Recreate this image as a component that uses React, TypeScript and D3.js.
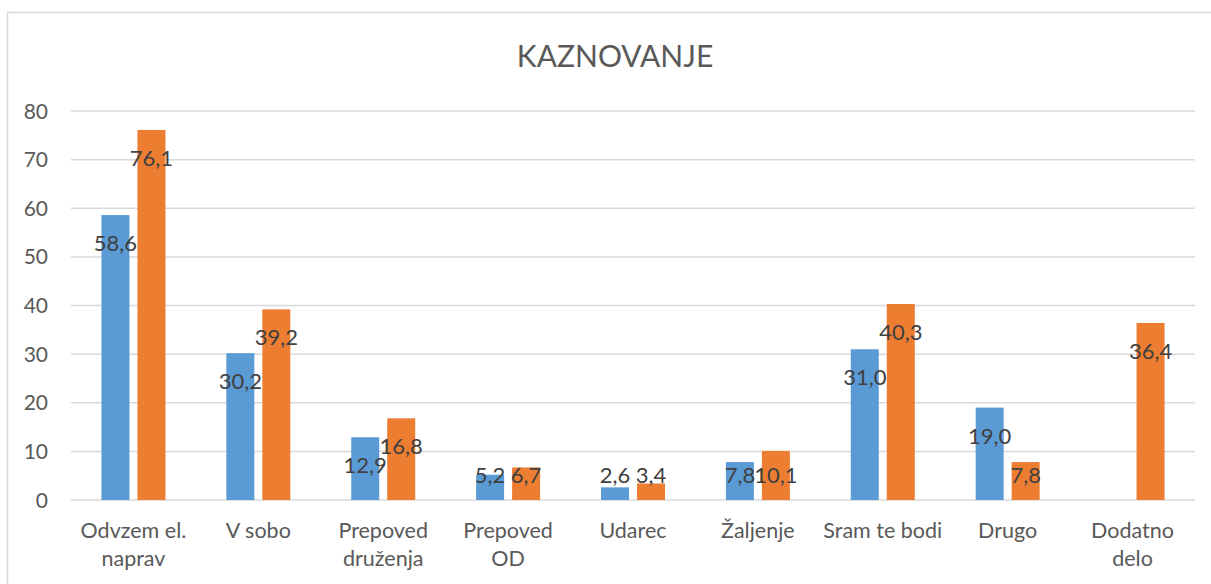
import React from "react";
import * as d3 from "d3";

const title = "KAZNOVANJE";
const categories = [
  "Odvzem el. naprav",
  "V sobo",
  "Prepoved druženja",
  "Prepoved OD",
  "Udarec",
  "Žaljenje",
  "Sram te bodi",
  "Drugo",
  "Dodatno delo",
];
const categoryLines = [
  ["Odvzem el.", "naprav"],
  ["V sobo"],
  ["Prepoved", "druženja"],
  ["Prepoved", "OD"],
  ["Udarec"],
  ["Žaljenje"],
  ["Sram te bodi"],
  ["Drugo"],
  ["Dodatno", "delo"],
];
const seriesBlue: (number | null)[] = [58.6, 30.2, 12.9, 5.2, 2.6, 7.8, 31.0, 19.0, null];
const seriesOrange: (number | null)[] = [76.1, 39.2, 16.8, 6.7, 3.4, 10.1, 40.3, 7.8, 36.4];
const yTicks = [0, 10, 20, 30, 40, 50, 60, 70, 80];

const seriesNames = ["a", "b"];
const colors = ["#5B9BD5", "#ED7D31"];

const App: React.FC = () => {
  const width = 1211;
  const height = 584;
  const marginLeft = 71;
  const marginRight = 16;
  const top = 111;
  const bottom = 500;
  const font = "Lato, 'Open Sans', sans-serif";

  const x0 = d3
    .scaleBand()
    .domain(categories)
    .range([marginLeft, width - marginRight])
    .paddingInner(0)
    .paddingOuter(0);

  // two bars centred in each band
  const groupW = 64;
  const x1 = d3.scaleBand().domain(seriesNames).range([0, groupW]).paddingInner(0.222);

  const y = d3.scaleLinear().domain([0, 80]).range([bottom, top]);

  const fmt = (v: number) => v.toFixed(1).replace(".", ",");
  const allSeries = [seriesBlue, seriesOrange];

  return (
    <svg
      width={width}
      height={height}
      style={{ position: "absolute", left: 0, top: 0, background: "#fff" }}
    >
      <rect x={7.5} y={12.5} width={width} height={height} fill="#fff" stroke="#D9D9D9" strokeWidth={1.5} />
      <text
        x={615}
        y={67}
        textAnchor="middle"
        fontFamily={font}
        fontSize={30}
        fill="#595959"
      >
        {title}
      </text>

      {yTicks.map((t) => (
        <g key={t}>
          <line
            x1={marginLeft}
            x2={width - marginRight}
            y1={y(t)}
            y2={y(t)}
            stroke="#D9D9D9"
            strokeWidth={1.5}
          />
          <text
            x={48}
            y={y(t)}
            dy="0.36em"
            textAnchor="end"
            fontFamily={font}
            fontSize={21}
            fill="#595959"
          >
            {t}
          </text>
        </g>
      ))}

      {categories.map((c, i) => {
        const cx = (x0(c) as number) + x0.bandwidth() / 2;
        const gx = cx - groupW / 2;
        return (
          <g key={c}>
            {allSeries.map((s, si) => {
              const v = s[i];
              if (v == null) return null;
              const bx = gx + (x1(seriesNames[si]) as number);
              return (
                <rect
                  key={si}
                  x={bx}
                  y={y(v)}
                  width={x1.bandwidth()}
                  height={y(0) - y(v)}
                  fill={colors[si]}
                />
              );
            })}
            {allSeries.map((s, si) => {
              const v = s[i];
              if (v == null) return null;
              const bx = gx + (x1(seriesNames[si]) as number) + x1.bandwidth() / 2;
              const ly = Math.min(y(v) + 28, y(0) - 25);
              return (
                <text
                  key={"l" + si}
                  x={bx}
                  y={ly}
                  dy="0.36em"
                  textAnchor="middle"
                  fontFamily={font}
                  fontSize={22}
                  fill="#404040"
                >
                  {fmt(v)}
                </text>
              );
            })}
            {categoryLines[i].map((ln, li) => (
              <text
                key={"c" + li}
                x={cx}
                y={538 + li * 27.5}
                textAnchor="middle"
                fontFamily={font}
                fontSize={21.5}
                fill="#595959"
              >
                {ln}
              </text>
            ))}
          </g>
        );
      })}
    </svg>
  );
};

export default App;
